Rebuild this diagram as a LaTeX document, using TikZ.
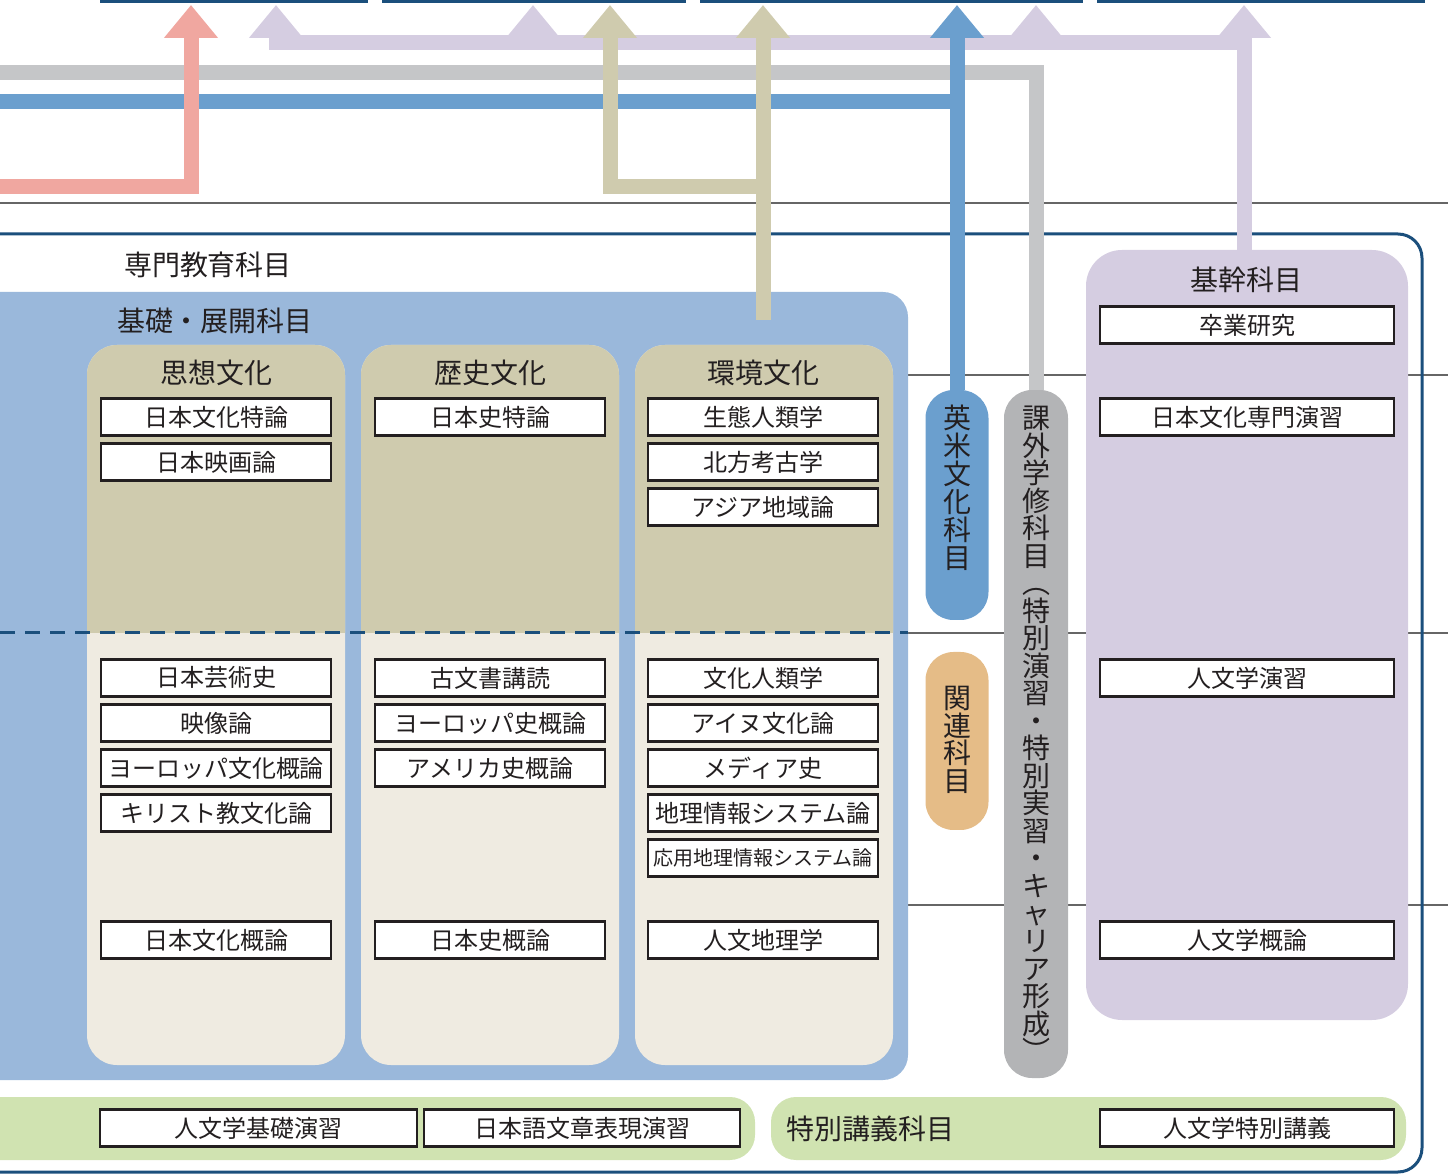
\documentclass[tikz,border=0pt]{standalone}
\usepackage{fontspec}
\setmainfont{Noto Sans CJK JP}
\usetikzlibrary{arrows.meta}
\definecolor{frameblue}{HTML}{1B4F7C}
\definecolor{baseblue}{HTML}{9AB8DB}
\definecolor{khaki}{HTML}{CFCBAE}
\definecolor{cream}{HTML}{EFEBE1}
\definecolor{pillblue}{HTML}{6B9FCE}
\definecolor{pillgray}{HTML}{B3B4B6}
\definecolor{bargray}{HTML}{C5C6C8}
\definecolor{salmon}{HTML}{F0A7A0}
\definecolor{lavender}{HTML}{D5CDE1}
\definecolor{apricot}{HTML}{E5BC87}
\definecolor{leaf}{HTML}{D0E3B1}
\definecolor{ink}{HTML}{231F20}
\tikzset{
  course/.style={draw=ink,line width=1.2pt,fill=white,minimum width=115pt,
    minimum height=18.5pt,inner sep=0pt,text=ink,font=\fontsize{12}{12}\selectfont},
  hd/.style={text=ink,inner sep=0pt,font=\fontsize{14}{14}\selectfont},
  vchar/.style={hd,text height=11pt,text depth=1pt},
  pill/.style={rounded corners=14pt,inner sep=0pt,draw=none},
  band/.style={line width=7.5pt},
  tip/.style={-{Triangle[width=26pt,length=16.5pt]}},
  rule/.style={draw=black!60,line width=0.6pt}
}
\begin{document}
\begin{tikzpicture}[x=0.5pt,y=-0.5pt]
  \useasboundingbox (0,0) rectangle (1448,1176);
  % thin rules
  \draw[rule] (0,203) -- (1448,203);
  \foreach \y in {375,633,905}
    \draw[rule] (908,\y) -- (1448,\y);
  % top bars
  \foreach \a/\b in {100/368,382/686,700/1083,1097/1425}
    \draw[frameblue,line width=1.5pt] (\a,1.5) -- (\b,1.5);
  % outer frame
  \draw[frameblue,line width=1.5pt,rounded corners=12pt]
    (-30,234) -- (1422,234) -- (1422,1172) -- (-30,1172);
  \node[hd] (senmon) at (208,265) {専門教育科目};
  % basic region
  \fill[baseblue,rounded corners=12.5pt] (-30,292) rectangle (908,1080);
  \node[hd] (kiso) at (215,321) {基礎・展開科目};
  \foreach \x in {87,361,635} {
    \fill[cream,rounded corners=15pt] (\x,345) rectangle (\x+258,1065);
    \fill[khaki] (\x,633) [rounded corners=15pt] -- (\x,345) -- (\x+258,345)
      [sharp corners] -- (\x+258,633) -- cycle;
  }
  \draw[frameblue,line width=1.5pt,dash pattern=on 7.5pt off 5pt] (0,633) -- (908,633);
  % side pills and core box
  \node[pill,fill=pillblue,minimum width=31.5pt,minimum height=115pt] (eibei) at (957,505) {};
  \node[pill,fill=apricot,minimum width=31.5pt,minimum height=89pt] (kanren) at (957,741) {};
  \node[pill,fill=pillgray,minimum width=32pt,minimum height=344pt] (kagai) at (1036,734) {};
  \node[pill,fill=lavender,rounded corners=18pt,minimum width=161pt,minimum height=385pt] (kikan) at (1247,635) {};
  \fill[leaf,rounded corners=12.5pt] (-30,1097) rectangle (755,1160);
  \fill[leaf,rounded corners=12.5pt] (771,1097) rectangle (1406,1160);
  % arrows
  \coordinate (up1) at (191,5);
  \coordinate (up2) at (276,5);
  \coordinate (up3) at (533,5);
  \coordinate (up4) at (763,5);
  \coordinate (up5) at (957,5);
  \coordinate (up6) at (1036,5);
  \coordinate (up7) at (1244,5);
  \coordinate (up8) at (610,5);
  \coordinate (pj) at (276,43);
  \coordinate (gl) at (0,73);
  \coordinate (bl) at (0,102);
  \coordinate (pl) at (0,187);
  \coordinate (k0) at (763,320);
  \draw[band,lavender,tip] (up7 |- kikan.north) |- (pj) -- (up2);
  \draw[band,lavender,tip] (up3 |- pj) -- (up3);
  \draw[band,lavender,tip] (up6 |- pj) -- (up6);
  \draw[band,lavender,tip] (up7 |- pj) -- (up7);
  \draw[band,bargray] (gl) -| (kagai.north);
  \draw[band,pillblue] (bl) -- (bl -| up5);
  \draw[band,pillblue,tip] (eibei.north) -- (up5);
  \draw[band,khaki,tip] (k0) -- (up4);
  \draw[band,khaki,tip] (k0 |- pl) -| (up8);
  \draw[band,salmon,tip] (pl) -| (up1);
  % column 1
  \node[hd] (h1) at (216,373) {思想文化};
  \foreach \t [count=\i] in {日本文化特論,日本映画論}
    \node[course] (a\i) at (216,372+45*\i) {\t};
  \foreach \t [count=\i] in {日本芸術史,映像論,ヨーロッパ文化概論,キリスト教文化論}
    \node[course] (b\i) at (216,633+45*\i) {\t};
  \node[course] (c1) at (216,940) {日本文化概論};
  % column 2
  \node[hd] (h2) at (490,373) {歴史文化};
  \node[course] (a3) at (490,417) {日本史特論};
  \foreach \t [count=\i] in {古文書講読,ヨーロッパ史概論,アメリカ史概論}
    \node[course] (d\i) at (490,633+45*\i) {\t};
  \node[course] (c2) at (490,940) {日本史概論};
  % column 3
  \node[hd] (h3) at (763,373) {環境文化};
  \foreach \t [count=\i] in {生態人類学,北方考古学,アジア地域論}
    \node[course] (e\i) at (763,372+45*\i) {\t};
  \foreach \t [count=\i] in {文化人類学,アイヌ文化論,メディア史,地理情報システム論}
    \node[course] (f\i) at (763,633+45*\i) {\t};
  \node[course,font=\fontsize{10}{10}\selectfont] (f5) at (763,858) {応用地理情報システム論};
  \node[course] (c3) at (763,940) {人文地理学};
  % vertical labels
  \foreach \c [count=\i] in {英,米,文,化,科,目}
    \node[vchar] (v\i) at (957,391+28*\i) {\c};
  \foreach \c [count=\i] in {関,連,科,目}
    \node[vchar] (r\i) at (957,671.5+27.5*\i) {\c};
  \foreach \c [count=\i] in {課,外,学,修,科,目,︵,特,別,演,習,・,特,別,実,習,・,キ,ャ,リ,ア,形,成,︶}
    \node[vchar] (g\i) at (1036,391.5+27.5*\i) {\c};
  % core subjects
  \node[hd] (h4) at (1246,280) {基幹科目};
  \foreach \t/\y [count=\i] in {卒業研究/325,日本文化専門演習/417,人文学演習/678,人文学概論/940}
    \node[course,minimum width=147pt] (k\i) at (1247,\y) {\t};
  % bottom rows
  \node[course,minimum width=158.5pt] (s1) at (258.5,1128) {人文学基礎演習};
  \node[course,minimum width=158pt] (s2) at (582,1128) {日本語文章表現演習};
  \node[hd] (tk) at (870,1129) {特別講義科目};
  \node[course,minimum width=147pt] (s3) at (1247,1128) {人文学特別講義};
\end{tikzpicture}
\end{document}
